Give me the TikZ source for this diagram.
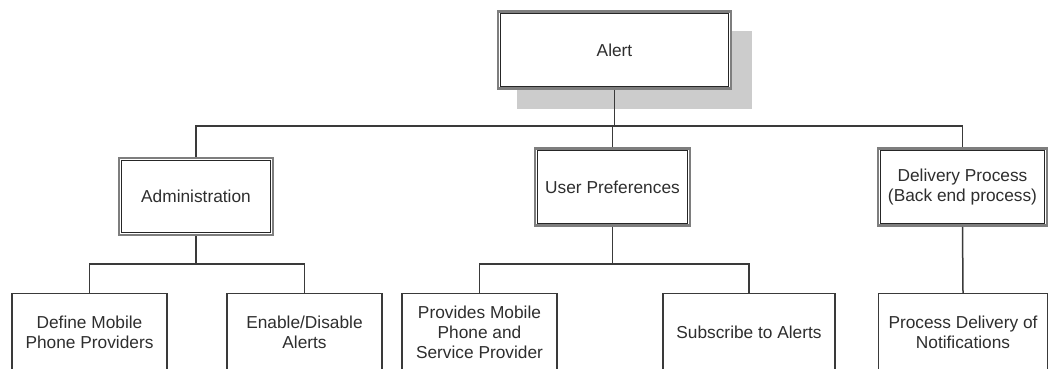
\documentclass[tikz,border=0pt]{standalone}
\usepackage{fontspec}
\setmainfont{Liberation Sans}
\definecolor{txt}{HTML}{2E2E2E}
\definecolor{ln}{HTML}{3A3A3A}
\definecolor{frame}{HTML}{7E7E7E}
\definecolor{shadowc}{HTML}{CCCCCC}
\begin{document}
\begin{tikzpicture}[x=1pt,y=-1pt,
  every node/.style={font=\fontsize{17.3}{20}\selectfont, text=txt, align=center, inner sep=0pt},
  topbox/.style={draw=frame, line width=2.8pt, fill=white, minimum height=#1},
  topbox/.default=77,
  innerline/.style={draw=black!85, line width=1.2pt},
  leaf/.style={draw=ln, line width=1.5pt, fill=white, minimum height=77},
  conn/.style={draw=ln, line width=1.5pt}]
\useasboundingbox (0,0) rectangle (1051,368);
\clip (0,0) rectangle (1051,368);
% shadow
\fill[shadowc] (517,31) rectangle (752,109);
% top-level boxes
\node[topbox, minimum width=233] (alert) at (614.5,50) {Alert};
\node[topbox, minimum width=154] (admin) at (196,196.5) {Administration};
\node[topbox, minimum width=155] (userp) at (612.5,187) {User Preferences};
\node[topbox, minimum width=169] (deliv) at (962.5,187) {Delivery Process\\(Back end process)};
\foreach \n in {alert,admin,userp,deliv}
  \draw[innerline] ([shift={(3.6,3.6)}]\n.north west) rectangle ([shift={(-3.6,-3.6)}]\n.south east);
% leaves
\node[leaf, minimum width=155] (define) at (89.5,332) {Define Mobile\\Phone Providers};
\node[leaf, minimum width=155] (enable) at (304.5,332) {Enable/Disable\\Alerts};
\node[leaf, minimum width=155] (provides) at (479.5,332) {Provides Mobile\\Phone and\\Service Provider};
\node[leaf, minimum width=172] (subscr) at (749,332) {Subscribe to Alerts};
\node[leaf, minimum width=169] (procdel) at (963,332) {Process Delivery of\\Notifications};
% connectors
\coordinate (bus) at (614.5,126);
\coordinate (busA) at (196,264);
\coordinate (busU) at (612.5,264);
\draw[conn] (alert.south) -- (bus);
\draw[conn] (admin.north) |- (bus) -| (deliv.north);
\draw[conn] (userp.north) -- (userp.north |- bus);
\draw[conn] (admin.south) -- (busA);
\draw[conn] (define.north) |- (busA) -| (enable.north);
\draw[conn] (userp.south) -- (busU);
\draw[conn] (provides.north) |- (busU) -| (subscr.north);
\draw[conn] (deliv.south) -- (procdel.north);
\end{tikzpicture}
\end{document}
